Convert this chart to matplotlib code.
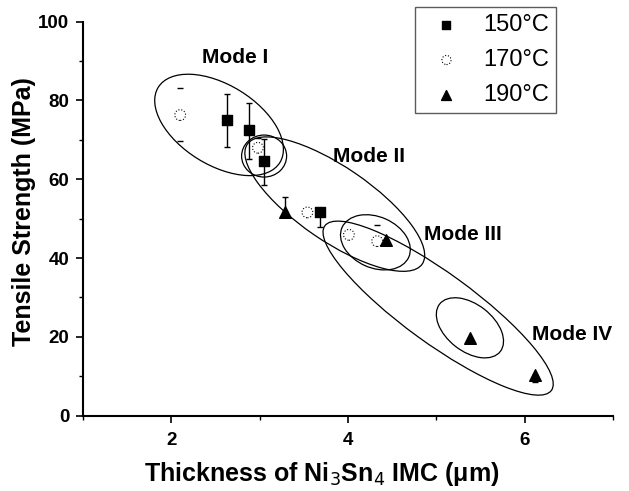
import matplotlib
matplotlib.use("Agg")
import matplotlib.pyplot as plt
from matplotlib.patches import Ellipse
from matplotlib.transforms import ScaledTranslation

plt.rcParams['font.family'] = ['Liberation Sans', 'DejaVu Sans']

# 150 C (filled squares)
x150 = [2.63, 2.88, 3.05, 3.68]
y150 = [75.0, 72.5, 64.7, 51.6]
lo150 = [6.8, 7.4, 6.2, 3.6]
hi150 = [6.6, 6.8, 5.5, 0.0]

# 170 C (open circles)
x170 = [2.10, 2.98, 3.54, 4.01, 4.33]
y170 = [76.3, 68.0, 51.6, 45.9, 44.3]
lo170 = [6.6, 0.0, 0.0, 0.0, 0.0]
hi170 = [6.8, 2.5, 0.0, 0.0, 4.1]

# 190 C (filled triangles)
x190 = [3.29, 4.43, 5.38, 6.12]
y190 = [51.8, 44.6, 19.6, 10.3]
lo190 = [0.0, 0.0, 0.0, 1.7]
hi190 = [3.6, 0.0, 0.0, 0.0]

# regions drawn round the groups: centre (data), width/height in px, angle
regions = [
    (2.54, 73.8, 143, 80, -31.7),
    (3.05, 65.9, 45, 42, 0),
    (3.85, 53.7, 212, 74, -34.4),
    (4.31, 44.0, 73, 51, -24),
    (5.02, 27.3, 280, 70, -36),
    (5.38, 22.3, 77, 47, -38),
]
mode_labels = ["Mode I", "Mode II", "Mode III", "Mode IV"]
mode_x = [2.72, 4.24, 5.30, 6.54]
mode_y = [91.0, 65.9, 46.1, 20.5]

fig = plt.figure(figsize=(6.29, 4.91), dpi=100)
ax = fig.add_axes([0.132, 0.1534, 0.8426, 0.8024])

ax.errorbar(x150, y150, yerr=[lo150, hi150], fmt='none', ecolor='k',
            elinewidth=1, capsize=2.5, capthick=1)
ax.errorbar(x170, y170, yerr=[lo170, hi170], fmt='none', ecolor='k',
            elinewidth=0, capsize=2.5, capthick=1)
ax.errorbar(x190, y190, yerr=[lo190, hi190], fmt='none', ecolor='k',
            elinewidth=1, capsize=2.5, capthick=1)

ax.scatter(x150, y150, marker='s', s=55, c='k', zorder=3, label='150°C')
ax.scatter(x170, y170, marker='o', s=60, facecolors='white', edgecolors='k',
           linewidths=0.8, linestyles=':', zorder=3, label='170°C')
ax.scatter(x190, y190, marker='^', s=70, c='k', zorder=3, label='190°C')

for xc, yc, w, h, ang in regions:
    tr = fig.dpi_scale_trans + ScaledTranslation(xc, yc, ax.transData)
    ax.add_patch(Ellipse((0, 0), w / 100, h / 100, angle=ang, transform=tr,
                         fill=False, ec='k', lw=0.9, clip_on=False))

for lab, mx, my in zip(mode_labels, mode_x, mode_y):
    ax.text(mx, my, lab, fontsize=15, fontweight='bold', ha='center', va='center')

ax.set_xlim(1, 7)
ax.set_ylim(0, 100)
ax.set_xticks([2, 4, 6])
ax.set_xticks([1, 3, 5, 7], minor=True)
ax.set_yticks([0, 20, 40, 60, 80, 100])
ax.set_yticks([10, 30, 50, 70, 90], minor=True)
for s in ['top', 'right']:
    ax.spines[s].set_visible(False)
for s in ['left', 'bottom']:
    ax.spines[s].set_linewidth(1.5)
ax.tick_params(which='major', direction='out', length=5, width=1.2,
               labelsize=13.5, pad=5)
ax.tick_params(which='minor', direction='out', length=3, width=1.0)
ax.tick_params(axis='x', which='major', pad=7)
for t in ax.get_xticklabels() + ax.get_yticklabels():
    t.set_fontweight('bold')

ax.set_xlabel('Thickness of Ni$_3$Sn$_4$ IMC (μm)', fontsize=18,
              fontweight='bold')
ax.xaxis.set_label_coords(0.45, -0.112)
ax.set_ylabel('Tensile Strength (MPa)', fontsize=18, fontweight='bold')
ax.yaxis.set_label_coords(-0.088, 0.517)

leg = ax.legend(loc='upper right', bbox_to_anchor=(0.8925, 1.037), fontsize=17,
                frameon=True, fancybox=False, edgecolor='#333333',
                handlelength=2.1, handletextpad=0.5, labelspacing=0.55,
                borderpad=0.3, borderaxespad=0, markerscale=0.85)
leg.get_frame().set_linewidth(1.0)

fig.savefig('out.png', dpi=100)
